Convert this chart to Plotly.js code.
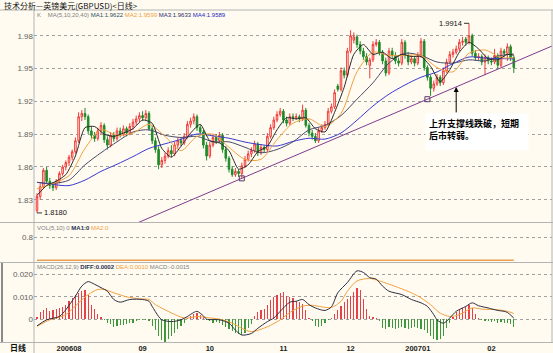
<!DOCTYPE html>
<html><head><meta charset="utf-8">
<script src="https://cdn.plot.ly/plotly-3.0.1.min.js"></script>
<style>html,body{margin:0;padding:0;background:#FFFBF0;}#chart{width:553px;height:353px;}</style>
</head><body><div id="chart"></div>
<script>
// ---------- DATA ----------
const opens = [
1.820,1.833,1.842,1.857,1.847,1.843,1.841,1.847,1.854,1.860,
1.864,1.869,1.874,1.884,1.906,1.909,1.906,1.893,1.889,1.886,
1.893,1.898,1.885,1.880,1.889,1.886,1.893,1.890,1.895,1.891,
1.897,1.901,1.904,1.907,1.905,1.909,1.895,1.884,1.876,1.862,
1.866,1.870,1.875,1.872,1.880,1.884,1.882,1.888,1.899,1.902,
1.906,1.896,1.892,1.880,1.870,1.880,1.887,1.884,1.889,1.876,
1.868,1.858,1.853,1.856,1.854,1.861,1.867,1.872,1.875,1.881,
1.873,1.878,1.876,1.888,1.896,1.903,1.908,1.911,1.903,1.900,
1.906,1.905,1.906,1.904,1.912,1.898,1.891,1.888,1.884,1.893,
1.896,1.899,1.911,1.915,1.934,1.931,1.948,1.944,1.966,1.976,
1.979,1.972,1.966,1.961,1.953,1.958,1.972,1.974,1.965,1.957,
1.946,1.966,1.962,1.957,1.955,1.974,1.962,1.956,1.959,1.955,
1.962,1.975,1.951,1.942,1.932,1.936,1.942,1.937,1.948,1.956,
1.963,1.965,1.968,1.974,1.977,1.974,1.980,1.964,1.960,1.961,
1.956,1.960,1.957,1.956,1.962,1.953,1.966,1.964,1.970,1.960];
const highs = [
1.836,1.845,1.859,1.860,1.850,1.846,1.849,1.856,1.862,1.866,
1.871,1.876,1.887,1.910,1.912,1.914,1.908,1.897,1.892,1.896,
1.901,1.900,1.888,1.892,1.892,1.896,1.896,1.898,1.897,1.900,
1.904,1.907,1.910,1.911,1.912,1.911,1.898,1.887,1.879,1.869,
1.873,1.878,1.880,1.883,1.887,1.887,1.891,1.902,1.905,1.909,
1.908,1.899,1.894,1.883,1.883,1.890,1.890,1.892,1.891,1.879,
1.870,1.861,1.859,1.858,1.864,1.870,1.875,1.878,1.884,1.883,
1.881,1.880,1.891,1.899,1.906,1.911,1.914,1.913,1.906,1.909,
1.909,1.909,1.908,1.917,1.914,1.900,1.894,1.891,1.896,1.899,
1.902,1.914,1.918,1.931,1.936,1.951,1.951,1.969,1.985,1.983,
1.981,1.975,1.969,1.964,1.960,1.975,1.977,1.976,1.967,1.960,
1.969,1.969,1.965,1.960,1.977,1.976,1.965,1.962,1.961,1.965,
1.978,1.977,1.953,1.944,1.939,1.945,1.944,1.951,1.959,1.966,
1.968,1.971,1.977,1.979,1.979,1.9914,1.982,1.967,1.964,1.963,
1.963,1.962,1.960,1.968,1.964,1.969,1.968,1.973,1.972,1.962];
const lows = [
1.818,1.830,1.840,1.845,1.840,1.838,1.839,1.845,1.852,1.857,
1.861,1.866,1.872,1.882,1.902,1.903,1.890,1.886,1.883,1.884,
1.890,1.882,1.876,1.878,1.883,1.884,1.887,1.888,1.888,1.889,
1.894,1.898,1.901,1.902,1.903,1.893,1.881,1.873,1.858,1.859,
1.863,1.868,1.869,1.870,1.877,1.879,1.880,1.886,1.896,1.899,
1.893,1.889,1.877,1.866,1.868,1.878,1.881,1.882,1.873,1.865,
1.855,1.851,1.851,1.851,1.850,1.859,1.865,1.869,1.873,1.870,
1.871,1.873,1.874,1.886,1.894,1.901,1.906,1.900,1.897,1.898,
1.902,1.903,1.901,1.902,1.896,1.888,1.885,1.882,1.882,1.891,
1.894,1.897,1.909,1.913,1.929,1.929,1.941,1.942,1.964,1.973,
1.969,1.963,1.958,1.953,1.941,1.956,1.970,1.962,1.954,1.943,
1.944,1.959,1.954,1.952,1.953,1.959,1.953,1.954,1.952,1.953,
1.960,1.948,1.939,1.925,1.929,1.934,1.934,1.935,1.946,1.954,
1.960,1.963,1.966,1.971,1.971,1.972,1.961,1.957,1.957,1.953,
1.944,1.954,1.953,1.954,1.950,1.951,1.961,1.957,1.957,1.946];
const closes = [
1.833,1.842,1.857,1.847,1.843,1.841,1.847,1.854,1.860,1.864,
1.869,1.874,1.884,1.906,1.909,1.906,1.893,1.889,1.886,1.893,
1.898,1.885,1.880,1.889,1.886,1.893,1.890,1.895,1.891,1.897,
1.901,1.904,1.907,1.905,1.909,1.895,1.884,1.876,1.862,1.866,
1.870,1.875,1.872,1.880,1.884,1.882,1.888,1.899,1.902,1.906,
1.896,1.892,1.880,1.870,1.880,1.887,1.884,1.889,1.876,1.868,
1.858,1.853,1.856,1.854,1.861,1.867,1.872,1.875,1.881,1.873,
1.878,1.876,1.888,1.896,1.903,1.908,1.911,1.903,1.900,1.906,
1.905,1.906,1.904,1.912,1.898,1.891,1.888,1.884,1.893,1.896,
1.899,1.911,1.915,1.928,1.931,1.948,1.944,1.966,1.980,1.979,
1.972,1.966,1.961,1.956,1.958,1.972,1.974,1.965,1.957,1.946,
1.966,1.962,1.957,1.955,1.974,1.962,1.956,1.959,1.955,1.962,
1.975,1.951,1.942,1.932,1.936,1.942,1.937,1.948,1.956,1.963,
1.965,1.968,1.974,1.975,1.974,1.980,1.964,1.960,1.961,1.956,
1.960,1.957,1.956,1.962,1.953,1.966,1.964,1.970,1.960,1.951];

const ma1Idx = [0,3,6,9,12,15,18,21,24,27,30,33,36,39,42,45,48,51,54,57,60,63,66,69,72,75,78,81,84,87,90,93,96,99,102,105,108,111,114,117,120,123,126,129,132,135,138,141,144,147,149];
const ma1 = [1.834,1.843,1.847,1.853,1.870,1.896,1.897,1.890,1.888,1.891,1.895,1.903,1.900,1.877,1.869,1.879,1.891,1.899,1.884,1.882,1.875,1.858,1.862,1.874,1.879,1.894,1.905,1.904,1.905,1.895,1.892,1.910,1.933,1.963,1.972,1.963,1.965,1.959,1.963,1.961,1.961,1.952,1.938,1.949,1.965,1.974,1.968,1.959,1.958,1.963,1.9622];
const maIdx = [0,5,10,15,20,25,30,35,40,45,50,55,60,65,70,75,80,85,90,95,100,105,110,115,120,125,130,135,140,145,149];
const ma2 = [1.840,1.845,1.852,1.877,1.894,1.889,1.891,1.899,1.888,1.875,1.888,1.890,1.878,1.867,1.867,1.885,1.900,1.904,1.897,1.909,1.947,1.965,1.962,1.962,1.962,1.951,1.947,1.964,1.967,1.960,1.9599];
const ma3 = [1.846,1.845,1.848,1.862,1.873,1.883,1.892,1.894,1.889,1.887,1.888,1.883,1.883,1.878,1.873,1.876,1.883,1.894,1.898,1.907,1.922,1.937,1.955,1.964,1.962,1.956,1.955,1.958,1.957,1.962,1.9633];
const ma4 = [1.846,1.844,1.843,1.848,1.856,1.8625,1.8695,1.877,1.8812,1.8853,1.8902,1.8884,1.8863,1.8828,1.8804,1.8792,1.8834,1.8863,1.8855,1.8911,1.9028,1.9158,1.9266,1.935,1.9421,1.9469,1.9546,1.9606,1.9596,1.9591,1.9589];

// volume panel (forex: zero volume)
const volMa2Idx = [0,149];
const volMa2 = [0,0];

// MACD
const diffIdx = [0,3,7,9,12,14,16,18,20,22,24,26,29,33,35,36,38,39,42,45,47,49,50,52,53,57,60,62,64,67,69,72,74,76,79,81,83,85,87,90,92,94,97,100,102,104,106,108,110,114,117,120,122,124,125,127,129,131,134,136,138,141,144,146,147,149];
const diffVal = [-0.0030,-0.0003,0.0012,0.0042,0.0103,0.0148,0.0168,0.0156,0.0141,0.0125,0.0088,0.0076,0.0088,0.0088,0.0080,0.0057,0.0012,-0.0003,-0.0011,-0.0003,0.0012,0.0030,0.0035,0.0015,0.0000,-0.0003,-0.0018,-0.0049,-0.0071,-0.0064,-0.0041,-0.0011,0.0005,0.0035,0.0076,0.0080,0.0088,0.0065,0.0050,0.0039,0.0055,0.0118,0.0164,0.0216,0.0209,0.0186,0.0179,0.0148,0.0125,0.0110,0.0088,0.0073,0.0057,0.0020,-0.0003,-0.0018,0.0005,0.0035,0.0057,0.0073,0.0060,0.0050,0.0039,0.0035,0.0030,0.0005];
const deaIdx = [0,4,9,13,16,19,21,24,28,32,35,37,41,45,47,50,53,57,61,64,67,72,76,79,83,86,89,92,95,97,100,104,107,113,117,120,123,126,129,132,136,139,144,147,149];
const deaVal = [-0.0032,-0.0003,0.0020,0.0073,0.0110,0.0133,0.0133,0.0118,0.0100,0.0091,0.0088,0.0065,0.0035,0.0009,0.0005,0.0012,0.0007,0.0000,-0.0018,-0.0041,-0.0056,-0.0034,-0.0003,0.0030,0.0058,0.0062,0.0055,0.0052,0.0080,0.0125,0.0171,0.0182,0.0171,0.0141,0.0118,0.0095,0.0065,0.0027,0.0012,0.0020,0.0050,0.0045,0.0042,0.0035,0.0025];
const macdHist = [
0.001,0.003,0.0042,0.005,0.0035,0.004,0.0045,0.005,0.0055,0.0065,
0.008,0.0095,0.011,0.0118,0.0125,0.013,0.011,0.0065,0.0045,0.0025,
0.001,-0.0005,-0.0015,-0.002,-0.0035,-0.003,-0.0028,-0.0025,-0.002,-0.0018,
-0.0015,-0.001,-0.0005,-0.0003,-0.0005,-0.001,-0.003,-0.005,-0.0075,-0.0095,
-0.0102,-0.009,-0.0075,-0.006,-0.0045,-0.003,-0.0015,0.0005,0.0015,0.0025,
0.0027,0.002,0.001,-0.0005,-0.001,-0.0015,-0.0012,-0.0018,-0.0025,-0.0035,
-0.0045,-0.0055,-0.006,-0.0065,-0.007,-0.006,-0.004,-0.002,0.0015,0.003,
0.004,0.0045,0.0065,0.0085,0.01,0.011,0.0115,0.012,0.0105,0.01,
0.0095,0.008,0.0075,0.007,0.004,0.0005,-0.001,-0.003,-0.0034,-0.003,
-0.0015,-0.0005,0.0005,0.0025,0.004,0.006,0.0075,0.009,0.0105,0.012,
0.0141,0.013,0.009,0.0045,0.0015,0.0008,0.0003,-0.001,-0.004,-0.0045,
-0.0035,-0.004,-0.0045,-0.004,-0.0035,-0.004,-0.0045,-0.004,-0.0035,-0.004,
-0.0045,-0.005,-0.006,-0.0075,-0.009,-0.0094,-0.009,-0.0075,-0.004,-0.0015,
0.001,0.003,0.004,0.005,0.0055,0.0065,0.005,0.0025,0.0005,-0.0005,
-0.001,-0.0008,-0.0012,-0.0009,-0.0015,-0.0012,-0.0018,-0.0015,-0.002,-0.0034];
const macdLabel = {diff:'0.0002', dea:'0.0010', macd:'-0.0015'};

// support (trend) line anchors
const trendIdx = [64, 122];
const trendPrice = [1.8496, 1.9220];

// axis ticks / labels
const monthIdx = [10, 33, 54, 77, 98, 119, 142];
const monthLabels = ['200608','09','10','11','12','200701','02'];
const priceTicks = [1.83, 1.86, 1.89, 1.92, 1.95, 1.98];
const priceTickLabels = ['1.83','1.86','1.89','1.92','1.95','1.98'];
const volTicks = [0.8];
const volTickLabels = ['0.8'];
const macdTicks = [0, 0.01, 0.02];
const macdTickLabels = ['0','0.010','0.020'];

const titleText = '技术分析—英镑美元(GBPUSD)&lt;日线&gt;';
const noteText = '上升支撑线跌破，短期<br>后市转弱。';

// ---------- DRAWING ----------
const BG = '#FFFBF0';
const W = 553, H = 353, ML = 34, MR = 1, MT = 10, MB = 11;
const PW = W - ML - MR, PH = H - MT - MB;
const px = x => (x - ML) / PW;
const py = y => (H - MB - y) / PH;

const idx = closes.map((_, i) => i);
const slope = (trendPrice[1] - trendPrice[0]) / (trendIdx[1] - trendIdx[0]);
const trendAt = i => trendPrice[0] + (i - trendIdx[0]) * slope;
const trendX = [20, 165];
const trendY = trendX.map(trendAt);

let hiI = 0, loI = 0;
highs.forEach((v, i) => { if (v > highs[hiI]) hiI = i; });
lows.forEach((v, i) => { if (v < lows[loI]) loI = i; });

const RED = '#F03A3A', GREEN = '#1F8A2A';

const traces = [
  {type:'candlestick', x: idx, open: opens, high: highs, low: lows, close: closes,
   xaxis:'x', yaxis:'y', whiskerwidth: 0,
   increasing:{line:{color:RED, width:1}, fillcolor:BG},
   decreasing:{line:{color:GREEN, width:1}, fillcolor:GREEN},
   showlegend:false, hoverinfo:'skip'},
  {type:'scatter', mode:'lines', x: trendX, y: trendY, xaxis:'x', yaxis:'y',
   line:{color:'#7E3C8C', width:1}, showlegend:false, hoverinfo:'skip'},
  {type:'scatter', mode:'markers', x: trendIdx, y: trendPrice, xaxis:'x', yaxis:'y',
   marker:{symbol:'square-open', size:5, color:'#5A3A6A', line:{width:1}}, showlegend:false, hoverinfo:'skip'},
  {type:'scatter', mode:'lines', x: maIdx, y: ma4, xaxis:'x', yaxis:'y',
   line:{color:'#3A3AD0', width:1, shape:'spline', smoothing:0.8}, showlegend:false, hoverinfo:'skip'},
  {type:'scatter', mode:'lines', x: maIdx, y: ma3, xaxis:'x', yaxis:'y',
   line:{color:'#4A4A6A', width:1, shape:'spline', smoothing:0.8}, showlegend:false, hoverinfo:'skip'},
  {type:'scatter', mode:'lines', x: maIdx, y: ma2, xaxis:'x', yaxis:'y',
   line:{color:'#F0A040', width:1, shape:'spline', smoothing:0.8}, showlegend:false, hoverinfo:'skip'},
  {type:'scatter', mode:'lines', x: ma1Idx, y: ma1, xaxis:'x', yaxis:'y',
   line:{color:'#2A2A2A', width:1, shape:'spline', smoothing:0.6}, showlegend:false, hoverinfo:'skip'},
  {type:'scatter', mode:'lines', x: volMa2Idx, y: volMa2, xaxis:'x', yaxis:'y2',
   line:{color:'#E8A050', width:1.5}, showlegend:false, hoverinfo:'skip'},
  {type:'bar', x: idx, y: macdHist, xaxis:'x', yaxis:'y3', width:0.38,
   marker:{color: macdHist.map(v => v >= 0 ? '#E8404A' : '#3A9A3A'), line:{width:0}},
   showlegend:false, hoverinfo:'skip'},
  {type:'scatter', mode:'lines', x: deaIdx, y: deaVal, xaxis:'x', yaxis:'y3',
   line:{color:'#F0A040', width:1, shape:'spline', smoothing:0.8}, showlegend:false, hoverinfo:'skip'},
  {type:'scatter', mode:'lines', x: diffIdx, y: diffVal, xaxis:'x', yaxis:'y3',
   line:{color:'#2E2E40', width:1, shape:'spline', smoothing:0.8}, showlegend:false, hoverinfo:'skip'}
];

const sepColor = '#B4B4B4';
const hline = (y, w) => ({type:'line', xref:'paper', yref:'paper', x0: px(0), x1: px(W), y0: py(y), y1: py(y), line:{color: sepColor, width: w || 1}});
const shapes = [
  hline(10), hline(222.5), hline(262.5), hline(342.5),
  {type:'line', xref:'paper', yref:'paper', x0:0, x1:0, y0:py(10), y1:py(353), line:{color:sepColor, width:1}},
  {type:'line', xref:'paper', yref:'paper', x0:px(552), x1:px(552), y0:py(10), y1:py(342.5), line:{color:sepColor, width:1}},
  {type:'line', xref:'paper', yref:'paper', x0:px(2), x1:px(2), y0:py(263), y1:py(342), line:{color:'#8A8A8A', width:2}}
];

const fCJK = 'Noto Sans CJK SC, sans-serif';
const fNum = 'Liberation Sans, Arial, sans-serif';
const sp = (c, t) => '<span style="color:' + c + '">' + t + '</span>';
const last = a => a[a.length - 1].toFixed(4);

const annotations = [
  {xref:'paper', yref:'paper', x:px(2), y:py(5.5), xanchor:'left', yanchor:'middle', showarrow:false,
   text: titleText, font:{family:fCJK, size:8, color:'#111'}},
  {xref:'paper', yref:'paper', x:px(35), y:py(15), xanchor:'left', yanchor:'middle', showarrow:false,
   text: sp('#808080','K&nbsp;&nbsp;&nbsp;&nbsp;MA(5,10,20,40)') + ' ' + sp('#1F4F5F','MA1:' + last(ma1)) + ' ' +
         sp('#F0A040','MA2:' + last(ma2)) + ' ' + sp('#2A2A6A','MA3:' + last(ma3)) + ' ' + sp('#2525C0','MA4:' + last(ma4)),
   font:{family:fNum, size:6, color:'#808080'}},
  {xref:'paper', yref:'paper', x:px(35), y:py(228), xanchor:'left', yanchor:'middle', showarrow:false,
   text: sp('#808080','VOL(5,10) 0') + ' ' + sp('#1F2F4F','<b>MA1:0</b>') + ' ' + sp('#F0A040','MA2:0'),
   font:{family:fNum, size:6, color:'#808080'}},
  {xref:'paper', yref:'paper', x:px(35), y:py(267), xanchor:'left', yanchor:'middle', showarrow:false,
   text: sp('#808080','MACD(26,12,9)') + ' ' + sp('#1F2F4F','<b>DIFF:' + macdLabel.diff + '</b>') + ' ' +
         sp('#F0A040','DEA:' + macdLabel.dea) + ' ' + sp('#808080','MACD:' + macdLabel.macd),
   font:{family:fNum, size:6, color:'#808080'}},
  {xref:'paper', yref:'paper', x:px(18), y:py(347.5), xanchor:'center', yanchor:'middle', showarrow:false,
   text:'<b>日线</b>', font:{family:fCJK, size:8, color:'#111'}},
  {xref:'x', yref:'y', x: hiI, y: highs[hiI], text: highs[hiI].toFixed(4), showarrow:true, arrowhead:0,
   arrowwidth:1, arrowcolor:'#333', ax:-18, ay:0, standoff:0, font:{family:fNum, size:7.5, color:'#111'}},
  {xref:'x', yref:'y', x: loI, y: lows[loI], text: lows[loI].toFixed(4), showarrow:true, arrowhead:0,
   arrowwidth:1, arrowcolor:'#333', ax:18, ay:0, standoff:0, font:{family:fNum, size:7.5, color:'#111'}},
  {xref:'x', yref:'y', x: 131, y: trendAt(131), text:'', showarrow:true, arrowhead:2, arrowsize:1,
   arrowwidth:1, arrowcolor:'#000', ax:0, ay:27},
  {xref:'paper', yref:'paper', x:px(425), y:py(113), xanchor:'left', yanchor:'top', showarrow:false,
   text:'<b>' + noteText + '</b>', align:'left', valign:'top', width:96, height:30, borderpad:3,
   bgcolor:'#FFFFFF', font:{family:fCJK, size:9, color:'#000'}}
];

const gridCommon = {showgrid:true, gridcolor:'#A0A0A0', griddash:'dot', gridwidth:1, zeroline:false,
  showline:false, ticks:'', tickfont:{family:fNum, size:8, color:'#606060'}, fixedrange:true};

const layout = {
  width: W, height: H, margin:{l:ML, r:MR, t:MT, b:MB, pad:0},
  paper_bgcolor: BG, plot_bgcolor: BG, showlegend:false,
  font:{family:fNum},
  bargap:0,
  xaxis:{domain:[0,1], anchor:'y3', range:[-0.9375, 160.94], tickmode:'array', tickvals: monthIdx,
    ticktext: monthLabels.map(t => '<b>' + t + '</b>'), showgrid:false, zeroline:false, showline:false,
    ticks:'', tickfont:{family:fNum, size:7.5, color:'#222'}, rangeslider:{visible:false}, fixedrange:true},
  yaxis: Object.assign({}, gridCommon, {domain:[py(222.5), 1], range:[1.80924, 2.00356], tickmode:'array',
    tickvals: priceTicks, ticktext: priceTickLabels}),
  yaxis2: Object.assign({}, gridCommon, {domain:[py(262.5), py(222.5)], range:[-0.079, 1.323], tickmode:'array',
    tickvals: volTicks, ticktext: volTickLabels}),
  yaxis3: Object.assign({}, gridCommon, {domain:[0, py(262.5)], range:[-0.01023, 0.02536], tickmode:'array',
    tickvals: macdTicks, ticktext: macdTickLabels}),
  shapes: shapes,
  annotations: annotations
};

Plotly.newPlot('chart', traces, layout, {staticPlot:true, displayModeBar:false});
</script>
</body></html>
